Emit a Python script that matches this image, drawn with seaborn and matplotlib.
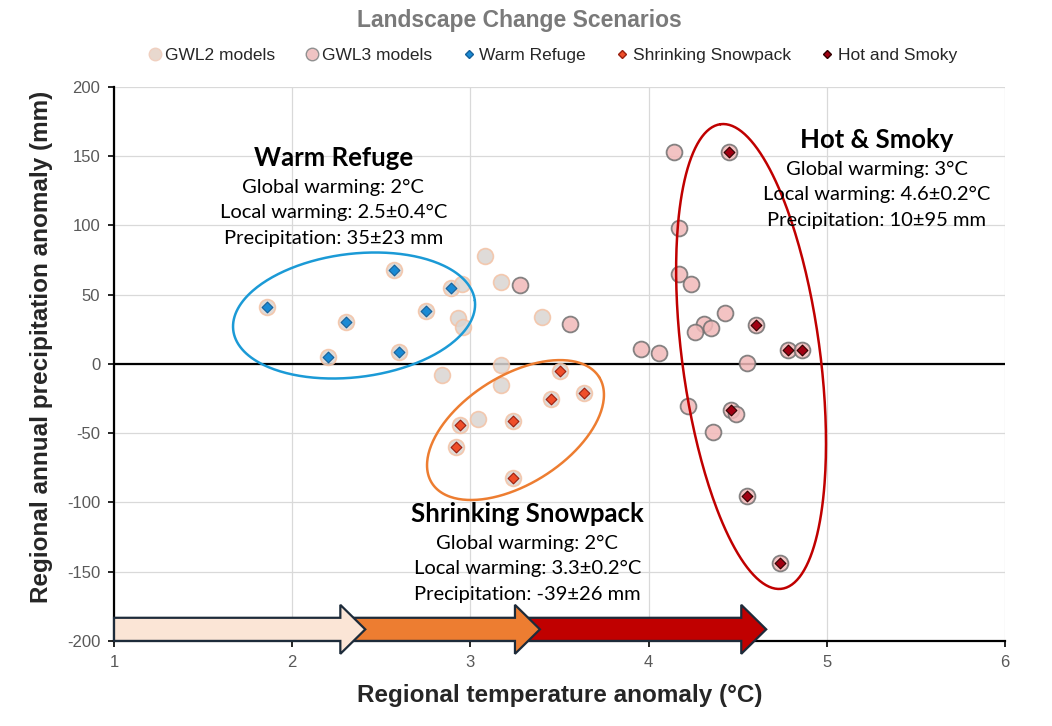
import numpy as np
import matplotlib
matplotlib.use("Agg")
import matplotlib.pyplot as plt
from matplotlib.patches import FancyArrow
from matplotlib.lines import Line2D
import seaborn as sns

# scenario members (temperature anomaly degC, precipitation anomaly mm)
warm_x = [1.86, 2.30, 2.20, 2.57, 2.60, 2.75, 2.89]
warm_y = [41, 30, 5, 68, 9, 38, 55]
snow_x = [3.50, 3.64, 3.45, 3.24, 2.94, 2.92, 3.24]
snow_y = [-5, -21, -25, -41, -44, -60, -82]
smoky_x = [4.45, 4.60, 4.78, 4.86, 4.46, 4.55, 4.74]
smoky_y = [153, 28, 10, 10, -33, -95, -144]

# other GWL2 / GWL3 models
gwl2_other_x = [3.08, 3.17, 2.95, 2.93, 2.96, 3.40, 2.84, 3.17, 3.17, 3.04]
gwl2_other_y = [78, 59, 58, 33, 27, 34, -8, -1, -15, -40]
gwl3_other_x = [4.14, 4.17, 4.17, 4.24, 4.43, 4.31, 4.35, 4.26, 4.55, 3.96, 4.06,
                4.22, 4.49, 4.36, 3.28, 3.56]
gwl3_other_y = [153, 98, 65, 58, 37, 29, 26, 23, 1, 11, 8, -30, -36, -49, 57, 29]

gwl2_x = warm_x + snow_x + gwl2_other_x
gwl2_y = warm_y + snow_y + gwl2_other_y
gwl3_x = smoky_x + gwl3_other_x
gwl3_y = smoky_y + gwl3_other_y

# global warming level arrows along the bottom (start, end in degC)
arrow_start = [1.0, 2.3, 3.3]
arrow_end = [2.41, 3.39, 4.66]
arrow_colors = ["#fbe5d6", "#ed7d31", "#c00000"]

sns.set_theme(style="whitegrid")
plt.rcParams["font.family"] = ["Liberation Sans", "DejaVu Sans"]
plt.rcParams["axes.unicode_minus"] = False

fig = plt.figure(figsize=(10.52, 7.26), dpi=100)
ax = fig.add_axes([0.1084, 0.1171, 0.8469, 0.7631])

sns.scatterplot(x=gwl2_x, y=gwl2_y, ax=ax, s=130, color="#dad5d2", alpha=0.85,
                edgecolor="#f4c2a4", linewidth=1.2, zorder=3)
sns.scatterplot(x=gwl3_x, y=gwl3_y, ax=ax, s=130, color="#f2b9b9", alpha=0.85,
                edgecolor="#707070", linewidth=1.3, zorder=4)
sns.scatterplot(x=warm_x, y=warm_y, ax=ax, marker="D", s=30, color="#1a8ad4",
                edgecolor="#15609a", linewidth=0.8, zorder=6)
sns.scatterplot(x=snow_x, y=snow_y, ax=ax, marker="D", s=30, color="#ef4e2a",
                edgecolor="#9a2010", linewidth=0.8, zorder=6)
sns.scatterplot(x=smoky_x, y=smoky_y, ax=ax, marker="D", s=30, color="#a00012",
                edgecolor="#300000", linewidth=0.8, zorder=6)

ax.set_xlim(1, 6)
ax.set_ylim(-200, 200)
ax.set_xticks(range(1, 7))
ax.set_yticks(range(-200, 201, 50))
ax.grid(True, color="#d9d9d9", linewidth=0.9)
ax.set_facecolor("white")
for side in ["top", "right"]:
    ax.spines[side].set_visible(False)
for side in ["left", "bottom"]:
    ax.spines[side].set_color("black")
    ax.spines[side].set_linewidth(1.6)
ax.axhline(0, color="black", linewidth=1.6, zorder=2)
ax.tick_params(axis="both", which="both", direction="out", length=4, width=1.2,
               color="black", labelcolor="#595959", labelsize=12,
               bottom=True, left=True, pad=6)

ax.set_xlabel("Regional temperature anomaly (\u00b0C)", fontsize=17.5,
              fontweight="bold", labelpad=10)
ax.set_ylabel("Regional annual precipitation anomaly (mm)", fontsize=17.5,
              fontweight="bold")
ax.yaxis.set_label_coords(-0.069, 0.53)

# scenario ellipses, drawn in pixel space so the tilt looks right
fig.canvas.draw()
def ellipse(cx, cy, a, b, ang, color):
    px, py = ax.transData.transform((cx, cy))
    t = np.linspace(0, 2 * np.pi, 300)
    th = np.deg2rad(ang)
    ex = px + a * np.cos(t) * np.cos(th) - b * np.sin(t) * np.sin(th)
    ey = py + a * np.cos(t) * np.sin(th) + b * np.sin(t) * np.cos(th)
    pts = ax.transData.inverted().transform(np.column_stack([ex, ey]))
    ax.plot(pts[:, 0], pts[:, 1], color=color, linewidth=1.8, zorder=5)

ellipse(2.347, 35, 121.7, 61.7, 7, "#1b9ad6")
ellipse(3.253, -47.7, 99, 54, 32.4, "#ed7d31")
ellipse(4.575, 5.4, 234.3, 69, 97.5, "#c00000")

# arrows: later ones go underneath the earlier arrow heads
for k, (x0, x1, c) in enumerate(zip(arrow_start, arrow_end, arrow_colors)):
    ax.add_patch(FancyArrow(x0, -191.6, x1 - x0, 0, width=16.7, head_width=35.4,
                            head_length=0.14, length_includes_head=True,
                            facecolor=c, edgecolor="#1d2b3a", linewidth=1.6,
                            clip_on=False, zorder=9 - k))

# scenario annotations
notes = [
    (2.23, 148.7, "Warm Refuge", ["Global warming: 2\u00b0C", "Local warming: 2.5\u00b10.4\u00b0C",
                                  "Precipitation: 35\u00b123 mm"]),
    (5.28, 161.7, "Hot & Smoky", ["Global warming: 3\u00b0C", "Local warming: 4.6\u00b10.2\u00b0C",
                                  "Precipitation: 10\u00b195 mm"]),
    (3.32, -108.3, "Shrinking Snowpack", ["Global warming: 2\u00b0C", "Local warming: 3.3\u00b10.2\u00b0C",
                                          "Precipitation: -39\u00b126 mm"]),
]
for x, y, head, lines in notes:
    ax.text(x, y, head, ha="center", va="center", fontsize=18.5, fontweight="bold",
            family=["Lato", "DejaVu Sans"], color="black", zorder=10)
    for i, line in enumerate(lines):
        ax.text(x, y - 21 - i * 18.6, line, ha="center", va="center", fontsize=14.5,
                family=["Lato", "DejaVu Sans"], color="black", zorder=10)

fig.text(0.4933, 0.972, "Landscape Change Scenarios", ha="center", va="center",
         fontsize=16.5, fontweight="bold", color="#7a7a7a")

handles = [
    Line2D([], [], marker="o", linestyle="", markersize=9, markerfacecolor="#e8d8ce",
           markeredgecolor="#f0d0c0", label="GWL2 models"),
    Line2D([], [], marker="o", linestyle="", markersize=9, markerfacecolor="#efc3c3",
           markeredgecolor="#909090", label="GWL3 models"),
    Line2D([], [], marker="D", linestyle="", markersize=4.5, markerfacecolor="#1a8ad4",
           markeredgecolor="#15609a", label="Warm Refuge"),
    Line2D([], [], marker="D", linestyle="", markersize=4.5, markerfacecolor="#ef4e2a",
           markeredgecolor="#9a2010", label="Shrinking Snowpack"),
    Line2D([], [], marker="D", linestyle="", markersize=4.5, markerfacecolor="#a00012",
           markeredgecolor="#300000", label="Hot and Smoky"),
]
fig.legend(handles=handles, loc="center", bbox_to_anchor=(0.525, 0.924), ncol=5,
           frameon=False, fontsize=12.5, handlelength=0.8, handletextpad=0.2,
           columnspacing=1.7)

fig.savefig("out.png", dpi=100)
